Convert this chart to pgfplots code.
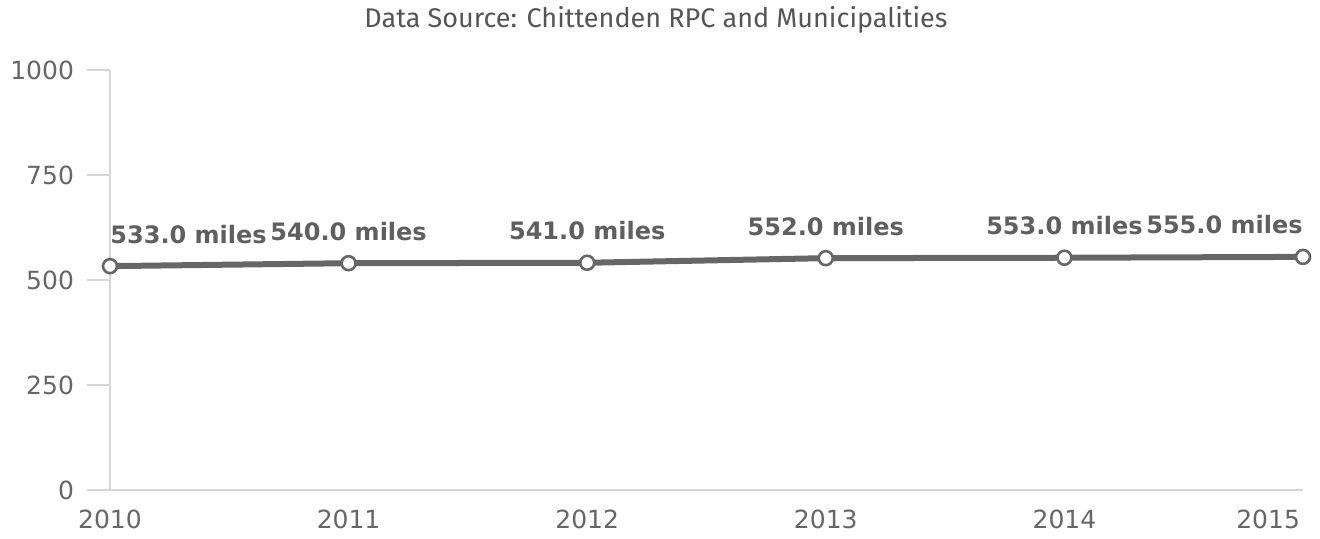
\documentclass[border=0pt]{standalone}
\usepackage{fontspec}
\setmainfont{DejaVu Sans}
\newfontfamily\titlefont{Fira Sans}
\usepackage{pgfplots}
\pgfplotsset{compat=1.18}
\definecolor{linegray}{HTML}{666666}
\definecolor{axisgray}{HTML}{D6D6D6}
\definecolor{textgray}{HTML}{666666}
\definecolor{titlegray}{HTML}{555555}
\definecolor{labelgray}{HTML}{5F5F5F}

\begin{document}
\begin{tikzpicture}
\useasboundingbox (-55pt,-24.5pt) rectangle (605pt,245pt);
\begin{axis}[
    scale only axis,
    width=596.5pt, height=210pt,
    at={(0,0)}, anchor=origin,
    xmin=2010, xmax=2015,
    ymin=0, ymax=1000,
    xtick={2010,2011,2012,2013,2014},
    xticklabels={2010,2011,2012,2013,2014},
    extra x ticks={2015},
    extra x tick labels={2015},
    extra x tick style={xticklabel style={anchor=north east, xshift=2pt}},
    ytick={0,250,500,750,1000},
    axis x line*=bottom, axis y line*=left,
    axis line style={axisgray, line width=1pt, -},
    x axis line style={shorten <=-11.5pt},
    tick align=outside,
    major tick length=11.5pt,
    ytick style={axisgray, line width=1pt},
    xtick style={draw=none},
    tick label style={font=\fontsize{12.5}{14}\selectfont, text=textgray},
    /pgf/number format/assume math mode=true,
    /pgf/number format/1000 sep={},
    yticklabel style={anchor=east, xshift=-3pt},
    xticklabel style={anchor=north, yshift=5pt},
    clip=false,
]
\addplot[linegray, line width=3pt, mark=*,
    mark options={fill=white, draw=linegray, line width=1.3pt},
    mark size=3.5pt]
  coordinates {(2010,533) (2011,540) (2012,541) (2013,552) (2014,553) (2015,555)};

\addplot[draw=none, nodes near coords={\bfseries\pgfmathprintnumber[fixed,fixed zerofill,precision=1]{\pgfplotspointmeta}~miles},
    nodes near coords style={anchor=base west, yshift=11.5pt, text=labelgray, font=\fontsize{12}{14}\selectfont, inner sep=0pt}]
  coordinates {(2010,533)};
\addplot[draw=none, nodes near coords={\bfseries\pgfmathprintnumber[fixed,fixed zerofill,precision=1]{\pgfplotspointmeta}~miles},
    nodes near coords style={anchor=base, yshift=11.5pt, text=labelgray, font=\fontsize{12}{14}\selectfont, inner sep=0pt}]
  coordinates {(2011,540) (2012,541) (2013,552) (2014,553)};
\addplot[draw=none, nodes near coords={\bfseries\pgfmathprintnumber[fixed,fixed zerofill,precision=1]{\pgfplotspointmeta}~miles},
    nodes near coords style={anchor=base east, yshift=11.5pt, text=labelgray, font=\fontsize{12}{14}\selectfont, inner sep=0pt}]
  coordinates {(2015,555)};
\end{axis}
\node[text=titlegray, font=\titlefont\fontsize{13.5}{15}\selectfont] at (273pt,235pt) {Data Source: Chittenden RPC and Municipalities};
\end{tikzpicture}
\end{document}
